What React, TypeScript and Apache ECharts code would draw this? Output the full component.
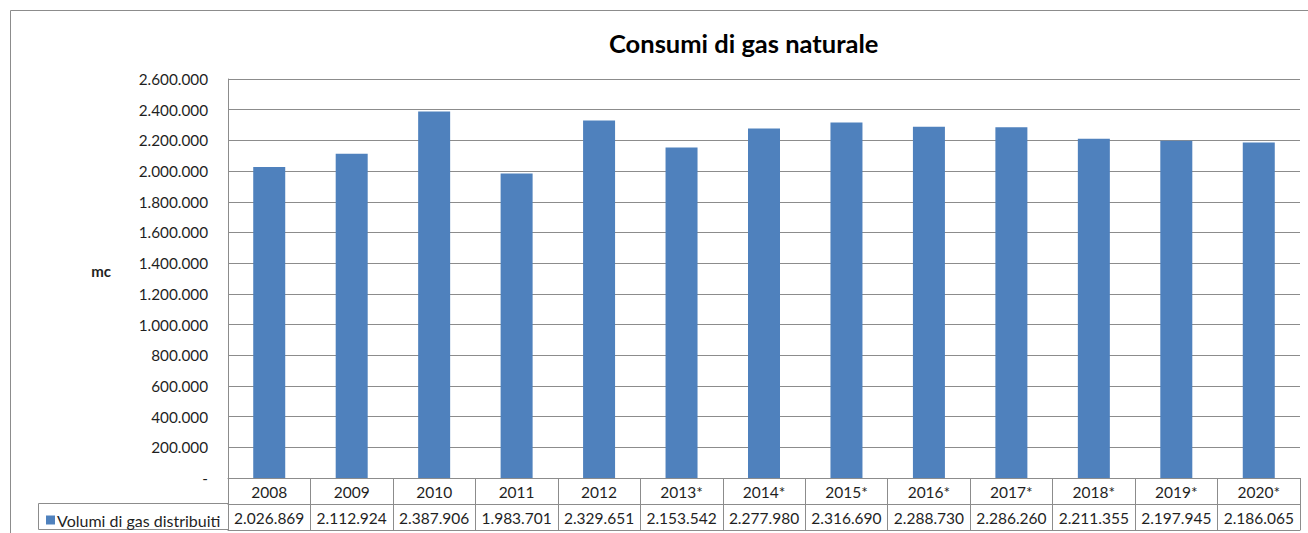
import React, { useEffect, useRef } from "react";
import * as echarts from "echarts";

const categories = ["2008", "2009", "2010", "2011", "2012", "2013*", "2014*", "2015*", "2016*", "2017*", "2018*", "2019*", "2020*"];
const values = [2026869, 2112924, 2387906, 1983701, 2329651, 2153542, 2277980, 2316690, 2288730, 2286260, 2211355, 2197945, 2186065];
const seriesName = "Volumi di gas distribuiti";
const titleText = "Consumi di gas naturale";
const yName = "mc";

const fmt = (v: number) => {
  if (v === 0) return "-";
  return String(Math.round(v)).replace(/\B(?=(\d{3})+(?!\d))/g, ".");
};

const FONT = "Lato";
const TEXT = "#1f1f1f";
const LINE = "#8c8c8c";

export default function App() {
  const ref = useRef<HTMLDivElement>(null);
  useEffect(() => {
    if (!ref.current) return;
    const chart = echarts.init(ref.current, undefined, { renderer: "svg" });
    chart.setOption({
      animation: false,
      backgroundColor: "#ffffff",
      textStyle: { fontFamily: FONT, color: TEXT },
      title: {
        text: titleText,
        left: 604,
        top: 25,
        textStyle: { fontFamily: FONT, fontWeight: "bold", fontSize: 25.5, color: "#000" },
      },
      legend: {
        left: 41,
        top: 507,
        itemWidth: 9,
        itemHeight: 9,
        itemGap: 4,
        icon: "rect",
        textStyle: { fontFamily: FONT, fontSize: 16, color: TEXT, padding: [0, 0, 0, -3] },
        data: [seriesName],
      },
      graphic: [
        {
          type: "rect",
          shape: { x: 10.5, y: 10.5, width: 1400, height: 600 },
          style: { fill: "none", stroke: LINE, lineWidth: 1 },
          silent: true,
          z: -1,
        },
        {
          type: "rect",
          shape: { x: 38.5, y: 503.5, width: 190, height: 26 },
          style: { fill: "none", stroke: LINE, lineWidth: 1 },
          silent: true,
        },
      ],
      grid: { left: 228, right: 8, top: 79, bottom: 55, containLabel: false },
      xAxis: [
        {
          type: "category",
          data: categories,
          position: "bottom",
          axisLine: { show: true, lineStyle: { color: LINE } },
          axisTick: { show: true, length: 52, lineStyle: { color: LINE } },
          axisLabel: { fontFamily: FONT, fontSize: 15.5, color: TEXT, margin: 6, interval: 0 },
          splitLine: { show: false },
        },
        {
          type: "category",
          data: values.map(fmt),
          position: "bottom",
          offset: 26,
          axisLine: { show: true, lineStyle: { color: LINE } },
          axisTick: { show: false },
          axisLabel: { fontFamily: FONT, fontSize: 15.5, color: TEXT, margin: 6, interval: 0 },
        },
        {
          type: "category",
          data: categories,
          position: "bottom",
          offset: 52,
          axisLine: { show: true, lineStyle: { color: LINE } },
          axisTick: { show: false },
          axisLabel: { show: false },
        },
      ],
      yAxis: {
        type: "value",
        min: 0,
        max: 2600000,
        interval: 200000,
        name: yName,
        nameLocation: "middle",
        nameRotate: 0,
        nameGap: 117,
        nameTextStyle: { fontFamily: FONT, fontWeight: "bold", fontSize: 15, color: TEXT, verticalAlign: "bottom" },
        axisLine: { show: true, lineStyle: { color: LINE } },
        axisTick: { show: false },
        axisLabel: { fontFamily: FONT, fontSize: 15.3, color: TEXT, margin: 20, formatter: (v: number) => fmt(v) },
        splitLine: { show: true, lineStyle: { color: LINE, width: 1 } },
      },
      series: [
        {
          name: seriesName,
          type: "bar",
          data: values,
          barWidth: 32,
          itemStyle: { color: "#4F81BD" },
        },
      ],
    });
    return () => chart.dispose();
  }, []);
  return <div ref={ref} style={{ position: "fixed", left: 0, top: 0, width: 1308, height: 533 }} />;
}
